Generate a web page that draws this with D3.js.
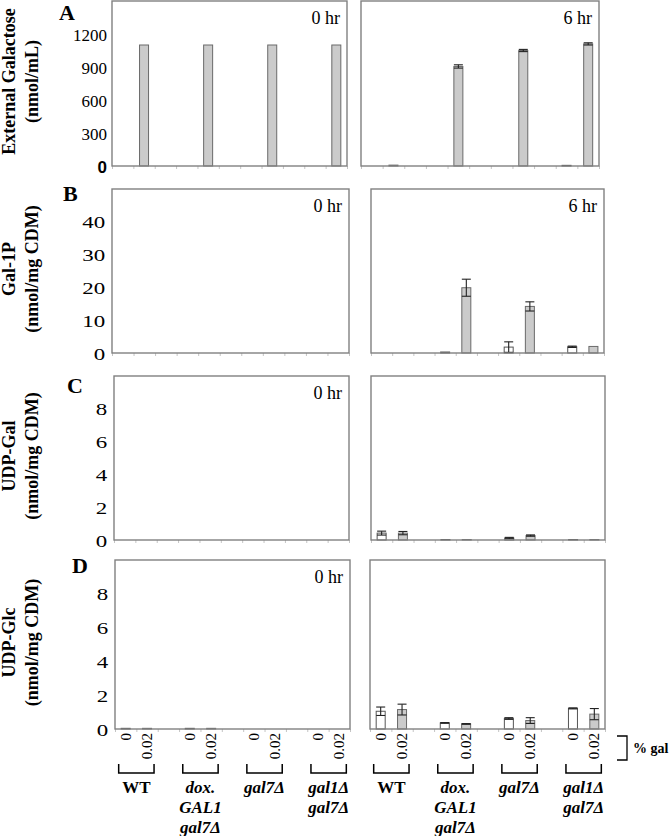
<!DOCTYPE html>
<html>
<head>
<meta charset="utf-8">
<script src="https://cdn.jsdelivr.net/npm/d3@7"></script>
<style>
  body { margin: 0; background: #fff; }
  text { font-family: "Liberation Serif", "Times New Roman", serif; fill: #000; }
</style>
</head>
<body>
<div id="chart"></div>
<script>
// strains and % galactose (two bars per strain)
var strains = [["WT"], ["dox.", "GAL1", "gal7\u0394"], ["gal7\u0394"], ["gal1\u0394", "gal7\u0394"]];
var galPct = ["0", "0.02"];

// values: [WT 0, WT .02, dox 0, dox .02, gal7 0, gal7 .02, gal1gal7 0, gal1gal7 .02]
var extGal0 = [0, 1100, 0, 1100, 0, 1100, 0, 1100];
var extGal0Err = [0, 0, 0, 0, 0, 0, 0, 0];
var extGal6 = [0, 8, 0, 905, 0, 1050, 6, 1110];
var extGal6Err = [0, 0, 0, 15, 0, 10, 0, 10];

var gal1p0 = [0, 0, 0, 0, 0, 0, 0, 0];
var gal1p0Err = [0, 0, 0, 0, 0, 0, 0, 0];
var gal1p6 = [0, 0, 0.3, 19.9, 1.8, 14.2, 1.9, 2.0];
var gal1p6Err = [0, 0, 0, 2.6, 1.6, 1.4, 0.2, 0];

var udpGal0 = [0, 0, 0, 0, 0, 0, 0, 0];
var udpGal0Err = [0, 0, 0, 0, 0, 0, 0, 0];
var udpGal6 = [0.42, 0.42, 0.03, 0.03, 0.12, 0.27, 0.03, 0.03];
var udpGal6Err = [0.12, 0.1, 0, 0, 0.04, 0.04, 0, 0];

var udpGlc0 = [0.04, 0.04, 0.04, 0.04, 0, 0, 0, 0];
var udpGlc0Err = [0, 0, 0, 0, 0, 0, 0, 0];
var udpGlc6 = [1.05, 1.15, 0.36, 0.3, 0.62, 0.5, 1.22, 0.88];
var udpGlc6Err = [0.25, 0.32, 0.02, 0.02, 0.05, 0.17, 0.03, 0.33];

var yMaxes = [1500, 50, 10, 10];
var yTicks = [[0, 300, 600, 900, 1200], [0, 10, 20, 30, 40], [0, 2, 4, 6, 8], [0, 2, 4, 6, 8]];
var titles = [["External Galactose", "(nmol/mL)"], ["Gal-1P", "(nmol/mg CDM)"], ["UDP-Gal", "(nmol/mg CDM)"], ["UDP-Glc", "(nmol/mg CDM)"]];
var letters = ["A", "B", "C", "D"];
var times = ["0 hr", "6 hr"];

var rows = [
  { hr0: [extGal0, extGal0Err], hr6: [extGal6, extGal6Err] },
  { hr0: [gal1p0, gal1p0Err], hr6: [gal1p6, gal1p6Err] },
  { hr0: [udpGal0, udpGal0Err], hr6: [udpGal6, udpGal6Err] },
  { hr0: [udpGlc0, udpGlc0Err], hr6: [udpGlc6, udpGlc6Err] }
];

// layout of the frames
var rowY = [[1, 166], [189, 353], [376, 540], [560, 729]];
var leftX = [[112, 347], [112, 349], [114, 349], [115, 350]];
var rightX = [[361, 599], [371, 604], [371, 605], [370, 605]];
var letterPos = [[59, 20], [63, 201], [67, 393], [72, 573]];

var svg = d3.select("#chart").append("svg")
    .attr("width", 669)
    .attr("height", 836);

var barW = 9;

function slotOf(i){ return Math.floor(i / 2) * 3 + (i % 2); }

function drawPanel(r, xr, yr, data, label, showY, showX){
    var x = d3.scaleBand().domain(d3.range(11)).range(xr).padding(0);
    var y = d3.scaleLinear().domain([0, yMaxes[r]]).range([yr[1], yr[0]]);
    var g = svg.append("g");

    // small ticks under the x axis, at the slot edges
    var xt = d3.scaleLinear().domain([0, 11]).range(xr);
    var xa = g.append("g")
        .attr("transform", "translate(0," + yr[1] + ")")
        .call(d3.axisBottom(xt).tickValues(d3.range(12)).tickSize(3).tickFormat(""));
    xa.select(".domain").remove();
    xa.selectAll("line").attr("stroke", "#c4c4c4");

    var vals = data[0], errs = data[1];
    var items = vals.map(function(v, i){ return { v: v, e: errs[i], i: i }; })
        .filter(function(d){ return d.v > 0; });

    g.selectAll("rect.bar").data(items).enter().append("rect")
        .attr("class", "bar")
        .attr("x", function(d){ return x(slotOf(d.i)) + (x.bandwidth() - barW) / 2; })
        .attr("y", function(d){ return y(d.v); })
        .attr("width", barW)
        .attr("height", function(d){ return y(0) - y(d.v); })
        .attr("fill", function(d){ return d.i % 2 ? "#cbcbcb" : "#fff"; })
        .attr("stroke", function(d){ return d.i % 2 ? "#6a6a6a" : "#555"; })
        .attr("stroke-width", 1);

    var eb = g.selectAll("g.err").data(items.filter(function(d){ return d.e > 0; }))
      .enter().append("g")
        .attr("class", "err")
        .attr("stroke", "#222")
        .attr("stroke-width", 1.1);
    eb.append("line")
        .attr("x1", function(d){ return x(slotOf(d.i)) + x.bandwidth() / 2; })
        .attr("x2", function(d){ return x(slotOf(d.i)) + x.bandwidth() / 2; })
        .attr("y1", function(d){ return y(Math.max(0, d.v - d.e)); })
        .attr("y2", function(d){ return y(d.v + d.e); });
    [1, -1].forEach(function(s){
        eb.append("line")
            .attr("x1", function(d){ return x(slotOf(d.i)) + (x.bandwidth() - barW) / 2; })
            .attr("x2", function(d){ return x(slotOf(d.i)) + (x.bandwidth() + barW) / 2; })
            .attr("y1", function(d){ return y(Math.max(0, d.v + s * d.e)); })
            .attr("y2", function(d){ return y(Math.max(0, d.v + s * d.e)); });
    });

    // frame
    g.append("rect")
        .attr("x", xr[0]).attr("y", yr[0])
        .attr("width", xr[1] - xr[0]).attr("height", yr[1] - yr[0])
        .attr("fill", "none")
        .attr("stroke", "#808080")
        .attr("stroke-width", 1.4);

    if (label) {
        g.append("text")
            .attr("x", xr[1] - 7)
            .attr("y", yr[0] + 23)
            .attr("text-anchor", "end")
            .style("font-size", "18px")
            .text(label);
    }

    if (showY) {
        var ya = g.append("g")
            .attr("transform", "translate(" + xr[0] + ",0)")
            .call(d3.axisLeft(y).tickValues(yTicks[r]).tickSize(0).tickPadding(5).tickFormat(d3.format("d")));
        ya.select(".domain").remove();
        ya.selectAll("text")
            .attr("dy", "0.36em")
            .attr("transform", r === 0 ? null : "scale(1.35,1)")
            .style("font-size", "17px")
            .style("font-family", function(d){ return (r === 0 && d === 0) ? "'Liberation Sans', Arial, sans-serif" : null; })
            .style("font-weight", function(d){ return (r === 0 && d === 0) ? "bold" : null; });
    }

    if (showX) {
        var lab = g.append("g");
        d3.range(8).forEach(function(i){
            var cx = x(slotOf(i)) + x.bandwidth() / 2;
            lab.append("text")
                .attr("transform", "translate(" + (cx + 5) + "," + (yr[1] + 4) + ") rotate(-90)")
                .attr("text-anchor", "end")
                .style("font-size", "15px")
                .text(galPct[i % 2]);
        });
        strains.forEach(function(lines, k){
            var c0 = x(k * 3) + x.bandwidth() / 2,
                c1 = x(k * 3 + 1) + x.bandwidth() / 2;
            lab.append("path")
                .attr("d", "M" + (c0 - 7) + ",764V773H" + (c1 + 7) + "V764")
                .attr("fill", "none")
                .attr("stroke", "#000")
                .attr("stroke-width", 1.5);
            lines.forEach(function(t, j){
                lab.append("text")
                    .attr("x", (c0 + c1) / 2)
                    .attr("y", 793 + j * 20)
                    .attr("text-anchor", "middle")
                    .style("font-size", "17px")
                    .style("font-weight", "bold")
                    .style("font-style", k === 0 ? "normal" : "italic")
                    .text(t);
            });
        });
    }
}

rows.forEach(function(row, r){
    drawPanel(r, leftX[r], rowY[r], row.hr0, times[0], true, r === 3);
    drawPanel(r, rightX[r], rowY[r], row.hr6, (r < 2) ? times[1] : null, false, r === 3);

    svg.append("text")
        .attr("x", letterPos[r][0])
        .attr("y", letterPos[r][1])
        .style("font-size", "22px")
        .style("font-weight", "bold")
        .text(letters[r]);

    var cy = (rowY[r][0] + rowY[r][1]) / 2 - 2;
    titles[r].forEach(function(t, j){
        svg.append("text")
            .attr("transform", "translate(" + (15 + j * 23) + "," + cy + ") rotate(-90)")
            .attr("text-anchor", "middle")
            .style("font-size", "18px")
            .style("font-weight", "bold")
            .text(t);
    });
});

// "% gal" bracket
svg.append("path")
    .attr("d", "M617,736H627V760H617")
    .attr("fill", "none")
    .attr("stroke", "#000")
    .attr("stroke-width", 1.3);
svg.append("text")
    .attr("x", 633)
    .attr("y", 753)
    .style("font-size", "14px")
    .style("font-weight", "bold")
    .text("% gal");
</script>
</body>
</html>
